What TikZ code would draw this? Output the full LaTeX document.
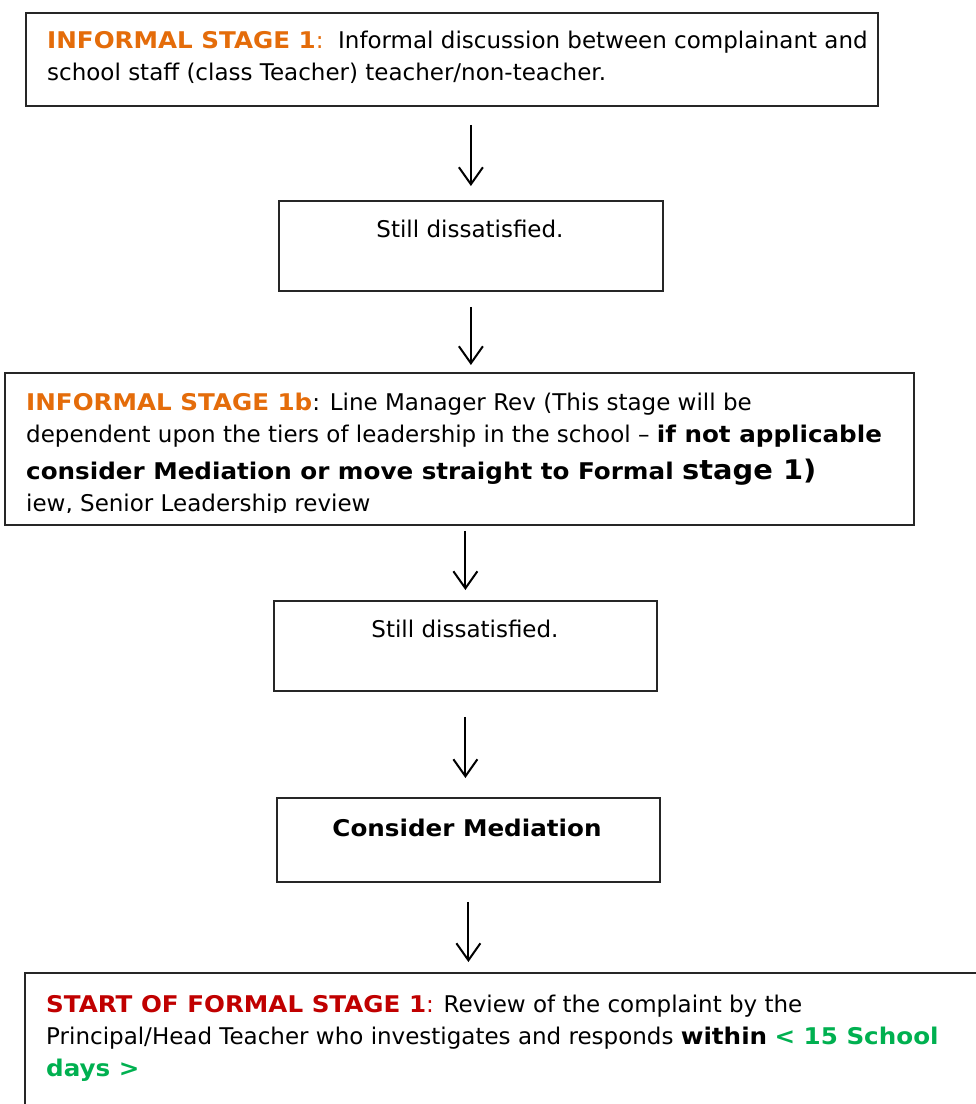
\documentclass[tikz,border=0pt]{standalone}
\usepackage{fontspec}
\setmainfont{DejaVu Sans}[BoldFeatures={FakeStretch=1.07}]
\usetikzlibrary{arrows.meta,positioning}
\definecolor{informal}{RGB}{228,108,10}
\definecolor{formal}{RGB}{192,0,0}
\definecolor{days}{RGB}{0,176,80}

\begin{document}
\begin{tikzpicture}[x=1pt,y=-1pt,
	stagebox/.style={draw=black!85, line width=1.8pt, inner sep=0pt, anchor=north west},
	stagetext/.style={inner sep=0pt, anchor=north west, align=left, font=\fontsize{23}{32}\selectfont},
	boxtext/.style={inner sep=0pt, anchor=base, font=\fontsize{23}{32}\selectfont},
	flow/.style={-{Straight Barb[length=17pt,width=24pt]}, line width=2pt}]
		\useasboundingbox (0,0) rectangle (976,1104);
		
		% boxes
		\node[stagebox, minimum width=852pt, minimum height=93pt] (inf1) at (25,12) {};
		\node[stagebox, minimum width=384pt, minimum height=90pt] (dis1) at (278,200) {};
		\node[stagebox, minimum width=909pt, minimum height=152pt] (inf1b) at (4,372) {};
		\node[stagebox, minimum width=383pt, minimum height=90pt] (dis2) at (273,600) {};
		\node[stagebox, minimum width=383pt, minimum height=84pt] (med) at (276,797) {};
		\node[stagebox, minimum width=1000pt, minimum height=200pt] (form1) at (24,972) {};
		
		% texts
		\node[stagetext] (inf1text) at (47,30.5) {\textbf{\color{informal}INFORMAL STAGE 1}{\color{informal}:}\ \ Informal discussion between complainant and\\school staff (class Teacher) teacher/non-teacher.};
		\node[boxtext] (dis1text) at (470,237) {Still dissatisfied.};
		\begin{scope}
			\clip (4,372) rectangle (913,512);
			\node[stagetext] (inf1btext) at (26,392.5) {\textbf{\color{informal}INFORMAL STAGE 1b}: Line Manager Rev (This stage will be\\dependent upon the tiers of leadership in the school -- \textbf{if not applicable}\\[5pt]\textbf{consider Mediation or move straight to Formal {\fontsize{27}{32}\selectfont stage 1)}}\\iew, Senior Leadership review};
		\end{scope}
		\node[boxtext] (dis2text) at (465,637) {Still dissatisfied.};
		\node[boxtext] (medtext) at (467,836) {\textbf{Consider Mediation}};
		\node[stagetext] (form1text) at (46,994.5) {\textbf{\color{formal}START OF FORMAL STAGE 1}{\color{formal}:} Review of the complaint by the\\Principal/Head Teacher who investigates and responds \textbf{within} {\color{days}\textbf{< 15 School}}\\{\color{days}\textbf{days >}}};
		
		% arrows
		\draw[flow, shorten <=18pt, shorten >=14pt] (dis1.north |- inf1.south) -- (dis1.north);
		\draw[flow, shorten <=15pt, shorten >=7pt] (dis1.south) -- (dis1.south |- inf1b.north);
		\draw[flow, shorten <=5pt, shorten >=10pt] (dis2.north |- inf1b.south) -- (dis2.north);
		\draw[flow, shorten <=25pt, shorten >=19pt] (dis2.south) -- (dis2.south |- med.north);
		\draw[flow, shorten <=19pt, shorten >=10pt] (med.south) -- (med.south |- form1.north);
	\end{tikzpicture}
\end{document}
